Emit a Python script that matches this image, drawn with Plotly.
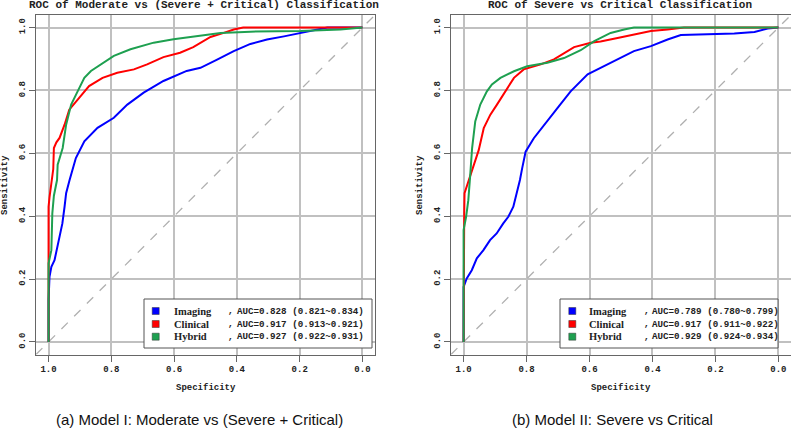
import plotly.graph_objects as go

W, H = 791, 428

# ---------------- data ----------------
names = ["Imaging", "Clinical", "Hybrid"]
colors = ["#0000ff", "#ff0000", "#1ea050"]

titles = ["ROC of Moderate vs (Severe + Critical) Classification",
          "ROC of Severe vs Critical Classification"]
captions = ["(a) Model I: Moderate vs (Severe + Critical)",
            "(b) Model II: Severe vs Critical"]
auc_a = ["AUC=0.828 (0.821~0.834)", "AUC=0.917 (0.913~0.921)", "AUC=0.927 (0.922~0.931)"]
auc_b = ["AUC=0.789 (0.780~0.799)", "AUC=0.917 (0.911~0.922)", "AUC=0.929 (0.924~0.934)"]

tick_vals = [0.0, 0.2, 0.4, 0.6, 0.8, 1.0]
tick_text = ["0.0", "0.2", "0.4", "0.6", "0.8", "1.0"]

# Panel (a)
a_img_spec = [1.0, 1.0, 0.997, 0.991, 0.981, 0.973, 0.965, 0.956, 0.949, 0.944, 0.933, 0.928, 0.913,
              0.886, 0.844, 0.792, 0.749, 0.697, 0.634, 0.560, 0.516, 0.463, 0.41, 0.357, 0.304,
              0.25, 0.197, 0.144, 0.112, 0.0]
a_img_sens = [0.0, 0.133, 0.207, 0.239, 0.26, 0.30, 0.329, 0.377, 0.43, 0.473, 0.515, 0.532, 0.585,
              0.638, 0.681, 0.713, 0.755, 0.793, 0.830, 0.862, 0.872, 0.898, 0.925, 0.948, 0.962,
              0.972, 0.983, 0.994, 1.0, 1.0]
a_cli_spec = [1.0, 1.0, 0.997, 0.991, 0.989, 0.985, 0.983, 0.975, 0.965, 0.949, 0.934, 0.907, 0.871,
              0.828, 0.781, 0.728, 0.686, 0.634, 0.581, 0.539, 0.516, 0.484, 0.442, 0.41, 0.38, 0.0]
a_cli_sens = [0.0, 0.43, 0.46, 0.50, 0.515, 0.55, 0.617, 0.635, 0.649, 0.691, 0.739, 0.771, 0.814,
              0.840, 0.856, 0.867, 0.883, 0.906, 0.920, 0.938, 0.952, 0.970, 0.983, 0.994, 1.0, 1.0]
a_hyb_spec = [1.0, 1.0, 0.991, 0.988, 0.983, 0.978, 0.973, 0.971, 0.955, 0.944, 0.928, 0.907, 0.886,
              0.865, 0.834, 0.792, 0.739, 0.665, 0.602, 0.528, 0.452, 0.357, 0.197, 0.07, 0.0]
a_hyb_sens = [0.0, 0.25, 0.292, 0.409, 0.465, 0.494, 0.515, 0.564, 0.617, 0.691, 0.755, 0.798, 0.840,
              0.862, 0.883, 0.910, 0.931, 0.952, 0.963, 0.973, 0.983, 0.987, 0.989, 0.994, 1.0]

# Panel (b)
b_img_spec = [1.0, 1.0, 0.99, 0.974, 0.958, 0.937, 0.916, 0.895, 0.874, 0.858, 0.842, 0.831, 0.821,
              0.814, 0.803, 0.777, 0.734, 0.702, 0.660, 0.606, 0.565, 0.511, 0.459, 0.405, 0.352,
              0.31, 0.246, 0.14, 0.076, 0.034, 0.0]
b_img_sens = [0.0, 0.175, 0.202, 0.228, 0.266, 0.292, 0.324, 0.345, 0.377, 0.398, 0.43, 0.473, 0.515,
              0.552, 0.605, 0.648, 0.701, 0.744, 0.797, 0.851, 0.872, 0.898, 0.925, 0.941, 0.962,
              0.976, 0.978, 0.981, 0.986, 0.997, 1.0]
b_cli_spec = [1.0, 1.0, 0.998, 0.997, 0.988, 0.982, 0.968, 0.952, 0.936, 0.915, 0.894, 0.867, 0.840,
              0.809, 0.755, 0.713, 0.649, 0.596, 0.565, 0.511, 0.459, 0.405, 0.352, 0.30, 0.0]
b_cli_sens = [0.0, 0.36, 0.41, 0.473, 0.50, 0.52, 0.562, 0.61, 0.68, 0.723, 0.755, 0.797, 0.840,
              0.867, 0.883, 0.899, 0.938, 0.952, 0.956, 0.967, 0.978, 0.989, 0.994, 1.0, 1.0]
b_hyb_spec = [1.0, 1.0, 0.992, 0.985, 0.979, 0.973, 0.963, 0.947, 0.926, 0.910, 0.883, 0.840, 0.798,
              0.734, 0.681, 0.628, 0.585, 0.533, 0.49, 0.459, 0.0]
b_hyb_sens = [0.0, 0.356, 0.398, 0.451, 0.53, 0.616, 0.701, 0.755, 0.797, 0.819, 0.840, 0.861, 0.877,
              0.888, 0.903, 0.928, 0.957, 0.983, 0.994, 1.0, 1.0]

panels = [
    dict(x="x", y="y", curves=[(a_img_spec, a_img_sens), (a_cli_spec, a_cli_sens), (a_hyb_spec, a_hyb_sens)], auc=auc_a),
    dict(x="x2", y="y2", curves=[(b_img_spec, b_img_sens), (b_cli_spec, b_cli_sens), (b_hyb_spec, b_hyb_sens)], auc=auc_b),
]

# ---------------- layout geometry (pixels) ----------------
x_dom_px = [(36, 375), (451, 791)]
y_dom_px = (15, 354.5)   # top, bottom


def px(xp):
    return xp / W


def py(yp):
    return 1 - yp / H


fig = go.Figure()

for i, p in enumerate(panels):
    # diagonal reference
    fig.add_trace(go.Scatter(x=[1.04, -0.04], y=[-0.04, 1.04], mode="lines",
                             line=dict(color="#b0b0b0", width=1.3, dash="dash"),
                             xaxis=p["x"], yaxis=p["y"], showlegend=False, hoverinfo="skip"))
    for (sx, sy), nm, c in zip(p["curves"], names, colors):
        fig.add_trace(go.Scatter(x=sx, y=sy, mode="lines", name=nm,
                                 line=dict(color=c, width=2),
                                 xaxis=p["x"], yaxis=p["y"], showlegend=False))

axis_common = dict(
    showgrid=True, gridcolor="#c0c0c0", gridwidth=1.5,
    zeroline=False, showline=True, mirror=True, linecolor="#666666", linewidth=1,
    ticks="outside", ticklen=6, tickcolor="#666666", tickwidth=1,
    tickvals=tick_vals, ticktext=tick_text,
    tickfont=dict(family="Liberation Mono", size=9, color="#222222", weight="bold"),
)

layout = dict(
    width=W, height=H, margin=dict(l=0, r=0, t=0, b=0),
    paper_bgcolor="white", plot_bgcolor="white", showlegend=False,
)
for i, (xa, ya) in enumerate([("xaxis", "yaxis"), ("xaxis2", "yaxis2")]):
    x0, x1 = x_dom_px[i]
    layout[xa] = dict(axis_common, domain=[px(x0), px(x1)], range=[1.04, -0.04],
                      anchor="y" if i == 0 else "y2")
    layout[ya] = dict(axis_common, domain=[py(y_dom_px[1]), py(y_dom_px[0])], range=[-0.04, 1.04],
                      anchor="x" if i == 0 else "x2", tickangle=-90)
fig.update_layout(**layout)

annotations = []
shapes = []
mono_b = dict(family="Liberation Mono", size=9, color="#222222", weight="bold")
for i, p in enumerate(panels):
    x0, x1 = x_dom_px[i]
    cx = (x0 + x1) / 2
    # title
    annotations.append(dict(text=titles[i], x=px(cx - 1), y=py(5.5), xref="paper", yref="paper",
                            showarrow=False, xanchor="center", yanchor="middle",
                            font=dict(family="Liberation Mono", size=11, color="#222222", weight="bold")))
    # x label
    annotations.append(dict(text="Specificity", x=px(cx), y=py(388), xref="paper", yref="paper",
                            showarrow=False, xanchor="center", yanchor="middle", font=mono_b))
    # y label
    annotations.append(dict(text="Sensitivity", x=px(x0 - 31), y=py(185), xref="paper", yref="paper",
                            showarrow=False, xanchor="center", yanchor="middle", textangle=-90, font=mono_b))
    # caption
    annotations.append(dict(text=captions[i], x=px([200, 612.5][i]), y=py(419), xref="paper", yref="paper",
                            showarrow=False, xanchor="center", yanchor="middle",
                            font=dict(family="Liberation Sans", size=15, color="#111111")))
    # legend box
    lx0, lx1 = [(144, 372), (560, 778)][i]
    shapes.append(dict(type="rect", xref="paper", yref="paper", x0=px(lx0), x1=px(lx1),
                       y0=py(348), y1=py(299), fillcolor="white",
                       line=dict(color="#555555", width=1), layer="above"))
    sq_x = [155.7, 572.3][i]
    name_x = [171.7, 587.3][i]
    comma_x = [226, 641.7][i]
    auc_x = [234.5, 650][i]
    for r, (nm, c, au) in enumerate(zip(names, colors, p["auc"])):
        ry = [311, 324, 336.7][r]
        shapes.append(dict(type="rect", xref="paper", yref="paper",
                           x0=px(sq_x - 3.5), x1=px(sq_x + 3.5), y0=py(ry + 3.5), y1=py(ry - 3.5),
                           fillcolor=c, line=dict(color="#333333", width=0.5), layer="above"))
        annotations.append(dict(text=nm, x=px(name_x), y=py(ry), xref="paper", yref="paper",
                                showarrow=False, xanchor="left", yanchor="middle",
                                font=dict(family="Liberation Serif", size=10.5, color="#222222", weight="bold")))
        annotations.append(dict(text=",", x=px(comma_x), y=py(ry), xref="paper", yref="paper",
                                showarrow=False, xanchor="left", yanchor="middle", font=mono_b))
        annotations.append(dict(text=au, x=px(auc_x), y=py(ry), xref="paper", yref="paper",
                                showarrow=False, xanchor="left", yanchor="middle",
                                font=dict(mono_b, size=9.2)))

fig.update_layout(annotations=annotations, shapes=shapes)
fig.write_html("out.html", config={"displayModeBar": False},
               post_script="document.body.style.margin='0';document.body.style.overflow='hidden';")
